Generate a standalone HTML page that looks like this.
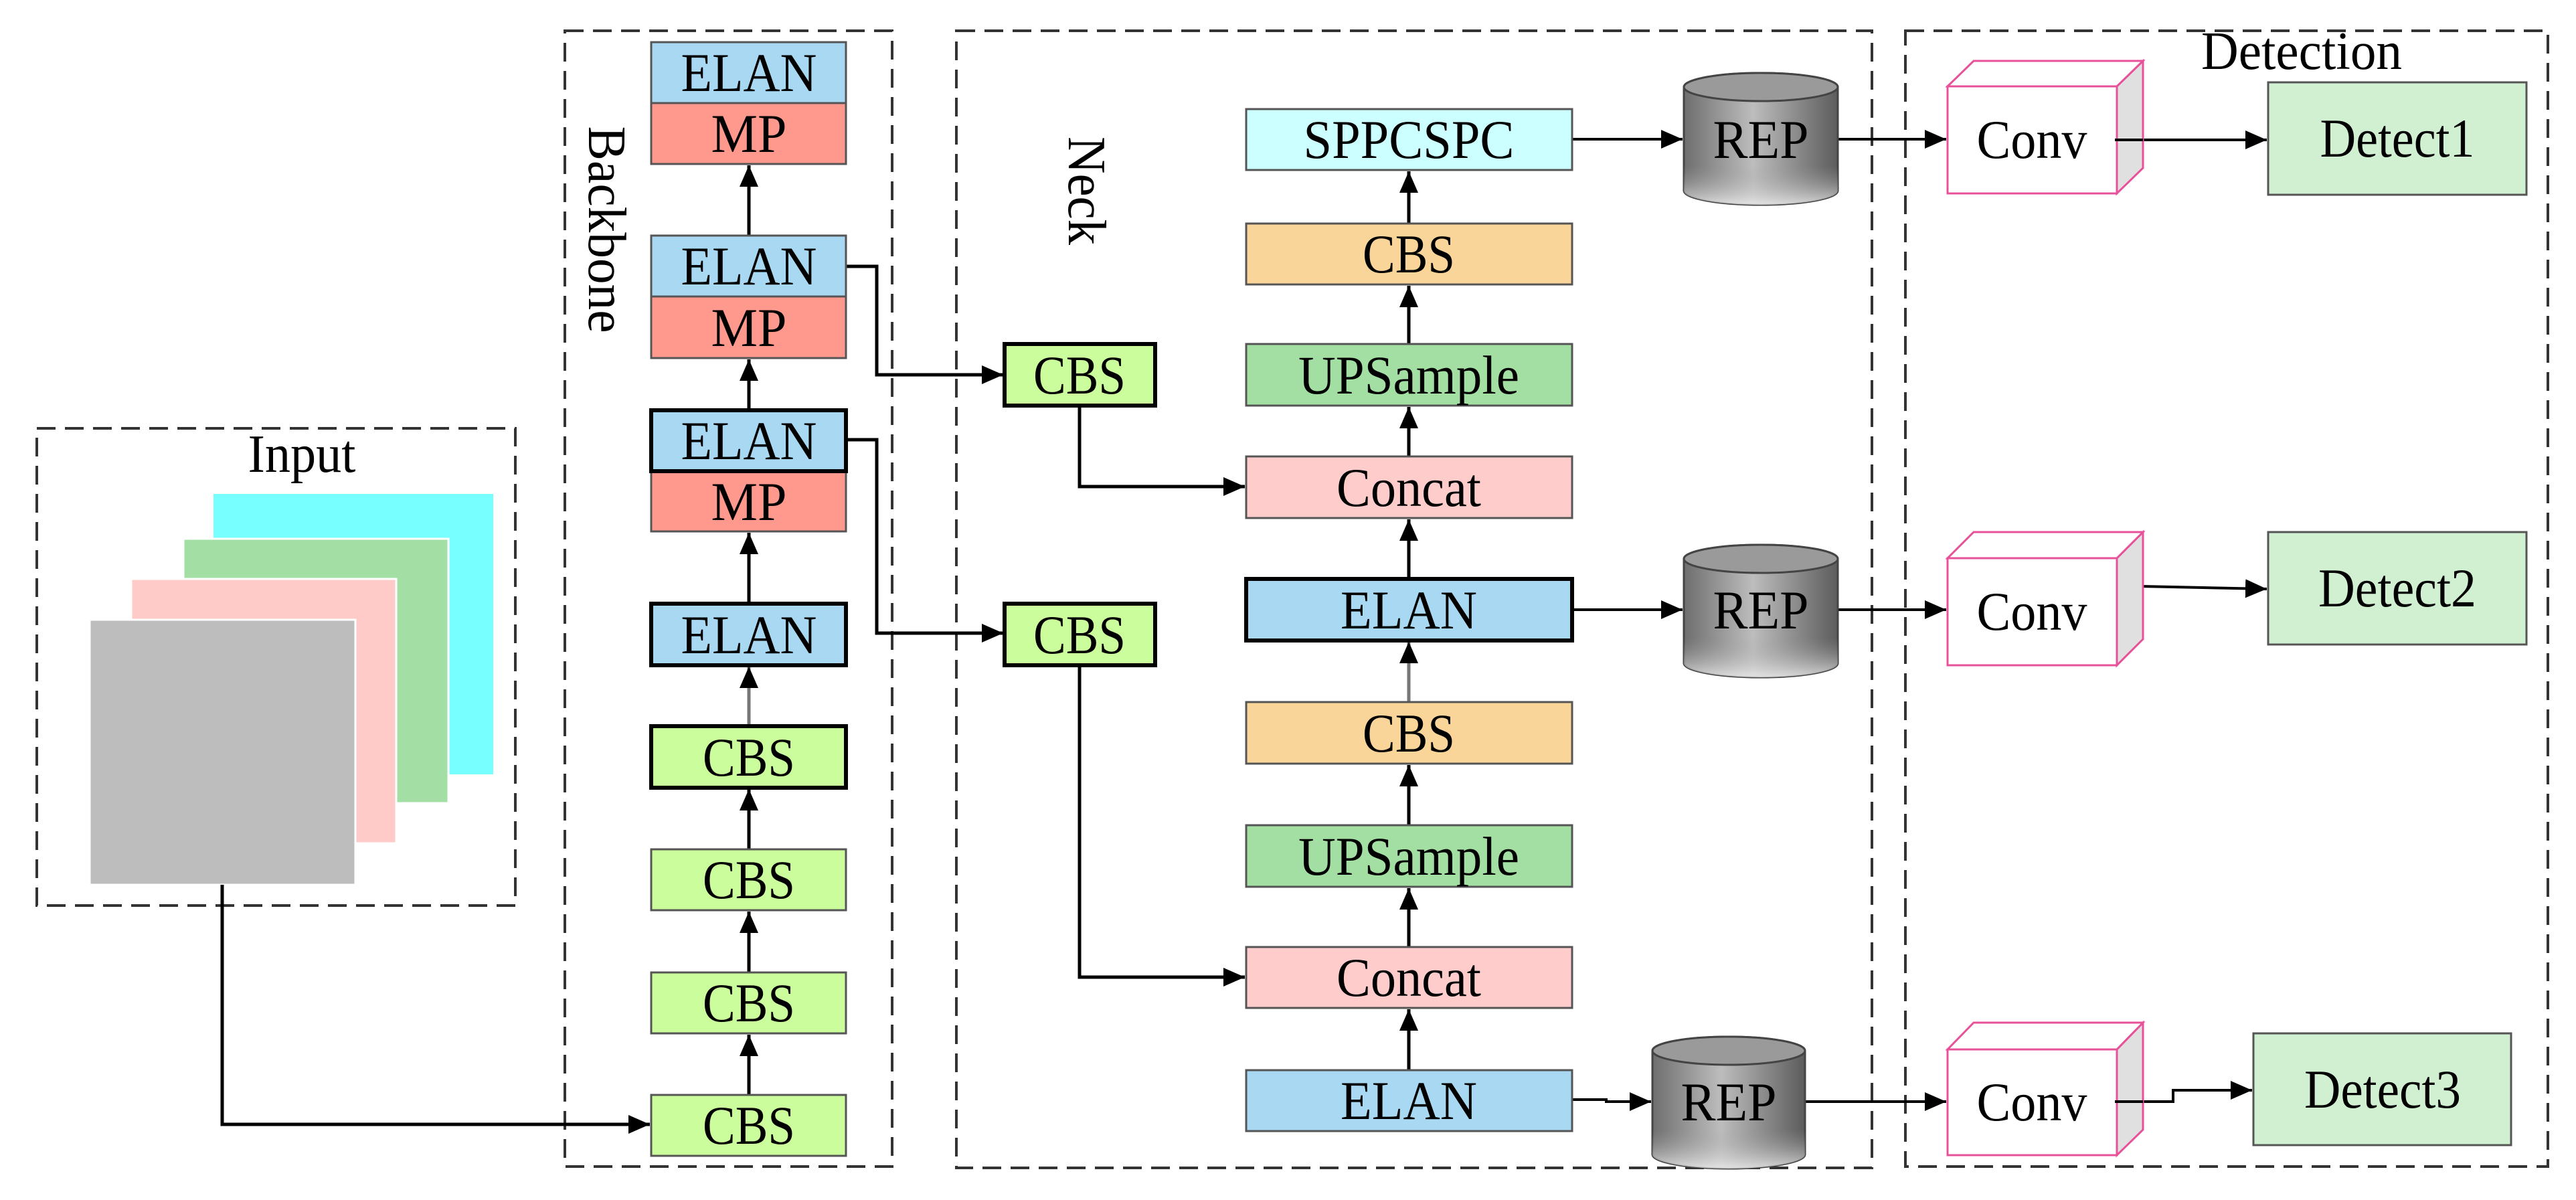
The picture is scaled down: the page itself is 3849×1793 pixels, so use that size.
<!DOCTYPE html>
<html><head><meta charset="utf-8"><style>html,body{margin:0;padding:0;background:#fff}svg{display:block}</style></head>
<body>
<svg width="3849" height="1793" viewBox="0 0 3849 1793" xmlns="http://www.w3.org/2000/svg" font-family="Liberation Serif, serif">
<defs>
<marker id="a" markerUnits="userSpaceOnUse" markerWidth="34" markerHeight="30" refX="32" refY="14" orient="auto"><path d="M0,0 L32,14 L0,28 z" fill="#000"/></marker>
<linearGradient id="cyl" x1="0" x2="1" y1="0" y2="0"><stop offset="0" stop-color="#6e6e6e"/><stop offset="0.45" stop-color="#bdbdbd"/><stop offset="1" stop-color="#5c5c5c"/></linearGradient>
<linearGradient id="cylv" x1="0" x2="0" y1="0" y2="1"><stop offset="0" stop-color="#8a8a8a" stop-opacity="0"/><stop offset="0.7" stop-color="#999" stop-opacity="0"/><stop offset="1" stop-color="#eee" stop-opacity="0.8"/></linearGradient>
</defs>
<g fill="none" stroke="#333" stroke-width="4" stroke-dasharray="28 14">
<rect x="55" y="640" width="715" height="713"/>
<rect x="844" y="46" width="489" height="1697"/>
<rect x="1429" y="46" width="1368" height="1699"/>
<rect x="2847" y="46" width="960" height="1697"/>
</g>
<!-- input -->
<rect x="319" y="738" width="418" height="419" fill="#77ffff"/>
<rect x="274" y="805" width="396" height="395" fill="#a3dfa5" stroke="#fff" stroke-width="3"/>
<rect x="196" y="865" width="396" height="395" fill="#ffcbc8" stroke="#fff" stroke-width="3"/>
<rect x="134" y="926" width="397" height="396" fill="#bdbdbd" stroke="#fff" stroke-width="3"/>
<g font-size="80" text-anchor="middle" fill="#000">
<text x="451" y="705" textLength="161" lengthAdjust="spacingAndGlyphs">Input</text>
<text transform="translate(880,343) rotate(90)" textLength="309" lengthAdjust="spacingAndGlyphs">Backbone</text>
<text transform="translate(1597,285) rotate(90)" textLength="162" lengthAdjust="spacingAndGlyphs">Neck</text>
<text x="3439" y="103" textLength="300" lengthAdjust="spacingAndGlyphs">Detection</text>
</g>
<!-- connectors -->
<g stroke="#000" stroke-width="5" fill="none">
<path d="M332,1322 V1680 H971" marker-end="url(#a)"/>
<path d="M1264,398 H1310 V560 H1499" marker-end="url(#a)"/>
<path d="M1264,657 H1310 V946 H1499" marker-end="url(#a)"/>
<path d="M1119,1636 V1546" marker-end="url(#a)"/>
<path d="M1119,1453 V1362" marker-end="url(#a)"/>
<path d="M1119,1269 V1179" marker-end="url(#a)"/>
<path d="M1119,1085 V996" stroke="#777" marker-end="url(#a)"/>
<path d="M1119,902 V796" marker-end="url(#a)"/>
<path d="M1119,613 V537" marker-end="url(#a)"/>
<path d="M1119,352 V247" marker-end="url(#a)"/>
<path d="M1613,606 V727 H1860" marker-end="url(#a)"/>
<path d="M1613,994 V1460 H1860" marker-end="url(#a)"/>
<path d="M2105,1599 V1508" marker-end="url(#a)"/>
<path d="M2105,1415 V1327" marker-end="url(#a)"/>
<path d="M2105,1233 V1143" marker-end="url(#a)"/>
<path d="M2105,1049 V959" stroke="#777" marker-end="url(#a)"/>
<path d="M2105,865 V776" marker-end="url(#a)"/>
<path d="M2105,682 V608" marker-end="url(#a)"/>
<path d="M2105,514 V427" marker-end="url(#a)"/>
<path d="M2105,334 V256" marker-end="url(#a)"/>
<path d="M2349,208 H2514" stroke-width="4" marker-end="url(#a)"/>
<path d="M2349,911 H2514" stroke-width="4" marker-end="url(#a)"/>
<path d="M2349,1643 H2400 V1646 H2467" stroke-width="4" marker-end="url(#a)"/>
<path d="M2746,208 H2908" stroke-width="4" marker-end="url(#a)"/>
<path d="M2746,911 H2908" stroke-width="4" marker-end="url(#a)"/>
<path d="M2697,1646 H2908" stroke-width="4" marker-end="url(#a)"/>
<path d="M3160,209 H3387" stroke-width="4" marker-end="url(#a)"/>
<path d="M3199,876 L3387,880" stroke-width="4" marker-end="url(#a)"/>
<path d="M3160,1646 H3247 V1629 H3365" stroke-width="4" marker-end="url(#a)"/>
</g>
<!-- backbone blocks -->
<g stroke="#555" stroke-width="3">
<rect x="973" y="63" width="291" height="91" fill="#a8d8f2"/>
<rect x="973" y="154" width="291" height="91" fill="#ff998e"/>
<rect x="973" y="352" width="291" height="91" fill="#a8d8f2"/>
<rect x="973" y="443" width="291" height="92" fill="#ff998e"/>
<rect x="973" y="704" width="291" height="90" fill="#ff998e"/>
<rect x="973" y="1269" width="291" height="91" fill="#ccfd9c"/>
<rect x="973" y="1453" width="291" height="91" fill="#ccfd9c"/>
<rect x="973" y="1636" width="291" height="91" fill="#ccfd9c"/>
</g>
<g stroke="#000" stroke-width="6">
<rect x="973" y="613" width="291" height="91" fill="#a8d8f2"/>
<rect x="973" y="902" width="291" height="92" fill="#a8d8f2"/>
<rect x="973" y="1085" width="291" height="92" fill="#ccfd9c"/>
<rect x="1501" y="514" width="225" height="92" fill="#ccfd9c"/>
<rect x="1501" y="902" width="225" height="92" fill="#ccfd9c"/>
<rect x="1862" y="865" width="487" height="92" fill="#a8d8f2"/>
</g>
<g stroke="#555" stroke-width="3">
<rect x="1862" y="163" width="487" height="91" fill="#ccffff"/>
<rect x="1862" y="334" width="487" height="91" fill="#fad59a"/>
<rect x="1862" y="514" width="487" height="92" fill="#a3dea3"/>
<rect x="1862" y="682" width="487" height="92" fill="#ffcccc"/>
<rect x="1862" y="1049" width="487" height="92" fill="#fad59a"/>
<rect x="1862" y="1233" width="487" height="92" fill="#a3dea3"/>
<rect x="1862" y="1415" width="487" height="91" fill="#ffcccc"/>
<rect x="1862" y="1599" width="487" height="91" fill="#a8d8f2"/>
<rect x="3389" y="123" width="386" height="168" fill="#d1efd1"/>
<rect x="3389" y="795" width="386" height="168" fill="#d1efd1"/>
<rect x="3367" y="1544" width="385" height="167" fill="#d1efd1"/>
</g>
<!-- REP cylinders -->
<g stroke="#444" stroke-width="3">
<g><path d="M2516,130 A115,21 0 0 1 2746,130 V285 A115,21 0 0 1 2516,285 Z" fill="url(#cyl)"/><path d="M2516,130 A115,21 0 0 1 2746,130 V285 A115,21 0 0 1 2516,285 Z" fill="url(#cylv)" stroke="none"/><ellipse cx="2631" cy="130" rx="115" ry="21" fill="#9a9a9a"/></g>
<g><path d="M2516,835 A115,21 0 0 1 2746,835 V991 A115,21 0 0 1 2516,991 Z" fill="url(#cyl)"/><path d="M2516,835 A115,21 0 0 1 2746,835 V991 A115,21 0 0 1 2516,991 Z" fill="url(#cylv)" stroke="none"/><ellipse cx="2631" cy="835" rx="115" ry="21" fill="#9a9a9a"/></g>
<g><path d="M2469,1570 A114,21 0 0 1 2697,1570 V1725 A114,21 0 0 1 2469,1725 Z" fill="url(#cyl)"/><path d="M2469,1570 A114,21 0 0 1 2697,1570 V1725 A114,21 0 0 1 2469,1725 Z" fill="url(#cylv)" stroke="none"/><ellipse cx="2583" cy="1570" rx="114" ry="21" fill="#9a9a9a"/></g>
</g>
<!-- Conv boxes -->
<g stroke="#e8509a" stroke-width="3">
<path d="M3163,129 L3202,91 V251 L3163,289 Z" fill="#e0e0e0"/><path d="M2910,129 L2949,91 H3202 L3163,129 Z" fill="#fff"/><rect x="2910" y="129" width="253" height="160" fill="#fff"/>
<path d="M3163,834 L3202,795 V955 L3163,994 Z" fill="#e0e0e0"/><path d="M2910,834 L2949,795 H3202 L3163,834 Z" fill="#fff"/><rect x="2910" y="834" width="253" height="160" fill="#fff"/>
<path d="M3163,1568 L3202,1528 V1688 L3163,1726 Z" fill="#e0e0e0"/><path d="M2910,1568 L2949,1528 H3202 L3163,1568 Z" fill="#fff"/><rect x="2910" y="1568" width="253" height="158" fill="#fff"/>
</g>
<path d="M3160,209 H3202" stroke="#000" stroke-width="4"/>
<path d="M3160,1646 H3202" stroke="#000" stroke-width="4"/>
<!-- labels -->
<g font-size="82" text-anchor="middle" fill="#000" lengthAdjust="spacingAndGlyphs">
<text x="1119" y="136" textLength="203" lengthAdjust="spacingAndGlyphs">ELAN</text>
<text x="1119" y="227" textLength="113" lengthAdjust="spacingAndGlyphs">MP</text>
<text x="1119" y="425" textLength="203" lengthAdjust="spacingAndGlyphs">ELAN</text>
<text x="1119" y="517" textLength="113" lengthAdjust="spacingAndGlyphs">MP</text>
<text x="1119" y="686" textLength="203" lengthAdjust="spacingAndGlyphs">ELAN</text>
<text x="1119" y="777" textLength="113" lengthAdjust="spacingAndGlyphs">MP</text>
<text x="1119" y="976" textLength="203" lengthAdjust="spacingAndGlyphs">ELAN</text>
<text x="1119" y="1159" textLength="138" lengthAdjust="spacingAndGlyphs">CBS</text>
<text x="1119" y="1342" textLength="138" lengthAdjust="spacingAndGlyphs">CBS</text>
<text x="1119" y="1526" textLength="138" lengthAdjust="spacingAndGlyphs">CBS</text>
<text x="1119" y="1709" textLength="138" lengthAdjust="spacingAndGlyphs">CBS</text>
<text x="1613" y="588" textLength="138" lengthAdjust="spacingAndGlyphs">CBS</text>
<text x="1613" y="976" textLength="138" lengthAdjust="spacingAndGlyphs">CBS</text>
<text x="2105" y="236" textLength="315" lengthAdjust="spacingAndGlyphs">SPPCSPC</text>
<text x="2105" y="407" textLength="138" lengthAdjust="spacingAndGlyphs">CBS</text>
<text x="2105" y="588" textLength="330" lengthAdjust="spacingAndGlyphs">UPSample</text>
<text x="2105" y="756" textLength="216" lengthAdjust="spacingAndGlyphs">Concat</text>
<text x="2105" y="939" textLength="204" lengthAdjust="spacingAndGlyphs">ELAN</text>
<text x="2105" y="1123" textLength="138" lengthAdjust="spacingAndGlyphs">CBS</text>
<text x="2105" y="1307" textLength="330" lengthAdjust="spacingAndGlyphs">UPSample</text>
<text x="2105" y="1488" textLength="216" lengthAdjust="spacingAndGlyphs">Concat</text>
<text x="2105" y="1672" textLength="204" lengthAdjust="spacingAndGlyphs">ELAN</text>
<text x="2631" y="236" textLength="143" lengthAdjust="spacingAndGlyphs">REP</text>
<text x="2631" y="939" textLength="143" lengthAdjust="spacingAndGlyphs">REP</text>
<text x="2583" y="1674" textLength="143" lengthAdjust="spacingAndGlyphs">REP</text>
<text x="3036" y="236" textLength="165" lengthAdjust="spacingAndGlyphs">Conv</text>
<text x="3036" y="941" textLength="165" lengthAdjust="spacingAndGlyphs">Conv</text>
<text x="3036" y="1674" textLength="165" lengthAdjust="spacingAndGlyphs">Conv</text>
<text x="3582" y="234" textLength="231" lengthAdjust="spacingAndGlyphs">Detect1</text>
<text x="3582" y="906" textLength="236" lengthAdjust="spacingAndGlyphs">Detect2</text>
<text x="3560" y="1655" textLength="234" lengthAdjust="spacingAndGlyphs">Detect3</text>
</g>
</svg>
</body></html>
